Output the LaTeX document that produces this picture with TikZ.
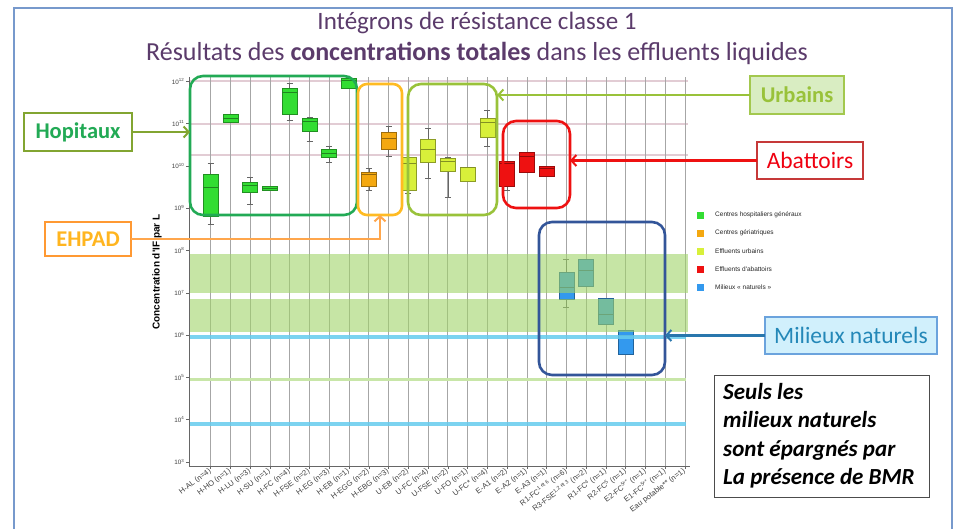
\documentclass[tikz,border=0pt]{standalone}
\usepackage{fontspec}
\setmainfont{Carlito}
\newfontfamily\arialf{Liberation Sans}
\usetikzlibrary{arrows.meta}
\definecolor{ttl}{HTML}{5B3B6B}
\definecolor{cgreen}{HTML}{33DD33}
\definecolor{corange}{HTML}{F4A810}
\definecolor{cyell}{HTML}{D8F03A}
\definecolor{cred}{HTML}{EE1111}
\definecolor{cblue}{HTML}{3399EE}
\definecolor{band}{HTML}{A0D469}
\definecolor{lblue}{HTML}{66CCEE}
\definecolor{lgreen}{HTML}{C8E6A8}
\definecolor{pinkg}{HTML}{E2CCD4}
\definecolor{gHosp}{HTML}{22AA55}
\definecolor{gEhpad}{HTML}{FFBB22}
\definecolor{gUrb}{HTML}{99C23A}
\definecolor{gAbat}{HTML}{EE1111}
\definecolor{gNat}{HTML}{335599}
\definecolor{frameblue}{HTML}{7799CC}
\newcommand\bxplot[7]{%
  \pgfmathsetmacro\bxX{210.7+#1*19.76}%
  \draw[whisk] (\bxX,#2) -- (\bxX,#6) (\bxX-3,#2) -- (\bxX+3,#2) (\bxX-3,#6) -- (\bxX+3,#6);%
  \filldraw[fill=#7, draw=#7!65!black, line width=0.6pt] (\bxX-7.5,#3) rectangle (\bxX+7.5,#5);%
  \draw[#7!60!black, line width=0.6pt] (\bxX-7.5,#4) -- (\bxX+7.5,#4);%
}
\begin{document}
\begin{tikzpicture}[x=1pt,y=-1pt,
  whisk/.style={black!60, line width=0.5pt},
  grp/.style={rounded corners=13pt, line width=2.6pt, minimum width=#1, inner sep=0pt, outer sep=0pt},
  lbl/.style={line width=1.6pt, inner sep=0pt, outer sep=0pt, font=\fontsize{23.5}{26}\selectfont},
  lblb/.style={lbl, font=\bfseries\fontsize{22.5}{26}\selectfont},
  conn/.style={line width=2.4pt, -{Straight Barb[length=5pt,width=11pt,line width=2pt]}},
  xlab/.style={font=\arialf\fontsize{7.6}{8}\selectfont, rotate=37, anchor=east, inner sep=0.5pt, text=black!75},
  ylab/.style={font=\arialf\fontsize{6.3}{7}\selectfont, anchor=east, inner sep=0.5pt, text=black!75},
  legsq/.style={minimum size=7pt, inner sep=0pt},
  legtx/.style={font=\arialf\fontsize{6.5}{7}\selectfont, anchor=west, inner sep=0pt, text=black!85}
]
\useasboundingbox (0,0) rectangle (957,528);
\fill[white] (0,0) rectangle (957,528);
\draw[frameblue, line width=1.4pt] (14,535) -- (14,8) -- (952,8) -- (952,535);

% titles
\node[text=ttl, font=\fontsize{25}{28}\selectfont] (t1) at (477,23) {Intégrons de résistance classe 1};
\node[text=ttl, font=\fontsize{26}{29}\selectfont] (t2) at (477,53) {Résultats des \textbf{concentrations totales} dans les effluents liquides};

% pink horizontal grid
\foreach \yy in {81,124,155} \draw[pinkg, line width=1.8pt] (189,\yy) -- (688,\yy);
% vertical grid
\foreach \i in {0,...,24} \draw[black!35, line width=0.7pt] ({210.7+\i*19.76},77) -- ({210.7+\i*19.76},466);

% box plots: index, whisker top, box top, median, box bottom, whisker bottom, colour
\bxplot{0}{163}{174}{187}{216}{224}{cgreen}
\bxplot{1}{114}{114}{118}{122}{122}{cgreen}
\bxplot{2}{177}{182}{185}{192}{204}{cgreen}
\bxplot{3}{186}{186}{188}{190}{190}{cgreen}
\bxplot{4}{83}{88}{92}{114}{120}{cgreen}
\bxplot{5}{117}{118}{121}{131}{141}{cgreen}
\bxplot{6}{146}{149}{153}{157}{162}{cgreen}
\bxplot{7}{78}{78}{80}{88}{88}{cgreen}
\bxplot{8}{168}{172}{174}{186}{190}{corange}
\bxplot{9}{126}{132}{138}{149}{156}{corange}
\bxplot{10}{157}{157}{163}{190}{193}{cyell}
\bxplot{11}{128}{139}{149}{162}{178}{cyell}
\bxplot{12}{157}{158}{161}{171}{197}{cyell}
\bxplot{13}{167}{167}{167}{181}{181}{cyell}
\bxplot{14}{110}{118}{122}{137}{146}{cyell}
\bxplot{15}{161}{161}{163}{186}{190}{cred}
\bxplot{16}{152}{152}{156}{172}{172}{cred}
\bxplot{17}{166}{166}{168}{176}{176}{cred}
\bxplot{18}{259}{272}{287}{299}{307}{cblue}
\bxplot{19}{259}{259}{270}{286}{286}{cblue}
\bxplot{20}{298}{298}{314}{324}{324}{cblue}
\bxplot{21}{330}{330}{335}{354}{354}{cblue}

% green bands and lines
\fill[band, opacity=0.6] (189,254) rectangle (688,293);
\fill[band, opacity=0.6] (189,299) rectangle (688,332);
\draw[lblue, line width=3.5pt, opacity=0.85] (189,337) -- (686,337);
\draw[lgreen, line width=3pt] (189,379) -- (686,379);
\draw[lblue, line width=3.5pt, opacity=0.85] (189,424) -- (686,424);

% axes
\draw[black!60, line width=0.7pt] (189,77) -- (189,466) -- (690,466);
\foreach \k in {3,...,12} {
  \draw[black!60, line width=0.5pt] (186,{462-(\k-3)*42.3}) -- (189,{462-(\k-3)*42.3});
  \node[ylab] (yt\k) at (185,{462-(\k-3)*42.3}) {10\textsuperscript{\k}};
}
\foreach \i in {0,...,24} \draw[black!60, line width=0.5pt] ({210.7+\i*19.76},466) -- ({210.7+\i*19.76},469);
\node[font=\arialf\bfseries\fontsize{10}{11}\selectfont, rotate=90] (yax) at (157,272) {Concentration d'IF par L};

\foreach \lab [count=\i from 0] in {H-AL (n=4), H-HO (n=1), H-LU (n=3), H-SU (n=1), H-FC (n=4), H-FSE (n=2), H-EG (n=3), H-EB (n=1), H-EGG (n=2), H-EBG (n=3), U-EB (n=2), U-FC (n=4), U-FSE (n=2), U-FO (n=1), U-FC* (n=4), E-A1 (n=2), E-A2 (n=1), E-A3 (n=1), {R1-FC\textsuperscript{1 et 6} (n=6)}, {R3-FSE\textsuperscript{1,2 et 3} (n=2)}, {R1-FC\textsuperscript{4} (n=1)}, {R2-FC\textsuperscript{5} (n=1)}, {E2-FC\textsuperscript{5**} (n=1)}, {E1-FC\textsuperscript{5**} (n=1)}, {Eau potable** (n=1)}}
  \node[xlab] (xl\i) at ({210.7+\i*19.76},470) {\lab};

% legend
\node[legsq, fill=cgreen] (sq1) at (700,215) {};
\node[legsq, fill=corange] (sq2) at (700,233) {};
\node[legsq, fill=cyell] (sq3) at (700,251) {};
\node[legsq, fill=cred] (sq4) at (700,269) {};
\node[legsq, fill=cblue] (sq5) at (700,287) {};
\node[legtx] (lt1) at (715,215) {Centres hospitaliers généraux};
\node[legtx] (lt2) at (715,233) {Centres gériatriques};
\node[legtx] (lt3) at (715,251) {Effluents urbains};
\node[legtx] (lt4) at (715,269) {Effluents d'abattoirs};
\node[legtx] (lt5) at (715,287) {Milieux « naturels »};

% group frames
\node[grp=167pt, draw=gHosp, minimum height=139pt] (ghosp) at (273.5,145.5) {};
\node[grp=44pt, draw=gEhpad, minimum height=131pt, rounded corners=9pt] (gehpad) at (380,149.5) {};
\node[grp=89pt, draw=gUrb, minimum height=131pt] (gurb) at (452.5,149.5) {};
\node[grp=67pt, draw=gAbat, minimum height=87pt] (gabat) at (536.5,164.5) {};
\node[grp=126pt, draw=gNat, minimum height=153pt] (gnat) at (602,298.5) {};

% label boxes
\node[lblb, draw=gUrb!85!black, fill=white, text=gHosp, minimum width=108pt, minimum height=38pt] (lhosp) at (78,132) {Hopitaux};
\node[lblb, draw=orange!80!white, fill=white, text=gEhpad!90!orange, minimum width=86pt, minimum height=34pt] (lehpad) at (88,239) {EHPAD};
\node[lblb, draw=gUrb!90!white, fill=lgreen!70!white, text=gUrb, minimum width=94pt, minimum height=38pt] (lurb) at (797,95) {Urbains};
\node[lbl, draw=red!55!gray, fill=white, text=red!75!purple, minimum width=106pt, minimum height=37pt] (labat) at (810,160.5) {Abattoirs};
\node[lbl, draw=cyan!60!blue!60!white, fill=cyan!18!white, text=gNat!70!cyan, minimum width=172pt, minimum height=37pt] (lnat) at (851,335.5) {Milieux naturels};

% connectors
\draw[conn, draw=gUrb!85!black] (lhosp.east) -- (lhosp.east -| ghosp.west);
\draw[conn, draw=orange!70!white] (lehpad.east) -| (gehpad.south);
\draw[conn, draw=gUrb] (lurb.west) -- (lurb.west -| gurb.east);
\draw[conn, draw=gAbat] (labat.west) -- (labat.west -| gabat.east);
\draw[conn, draw=gNat!80!cyan] (lnat.west) -- (lnat.west -| gnat.east);

% note
\node[draw=black!70, line width=1pt, minimum width=215pt, minimum height=122pt, inner sep=0pt] (note) at (821.5,436) {};
\node[anchor=north west, align=left, font=\bfseries\itshape\fontsize{23}{28.5}\selectfont, inner sep=0pt] (notetxt) at (723,383) {Seuls les\\milieux naturels\\sont épargnés par\\La présence de BMR};
\end{tikzpicture}
\end{document}
